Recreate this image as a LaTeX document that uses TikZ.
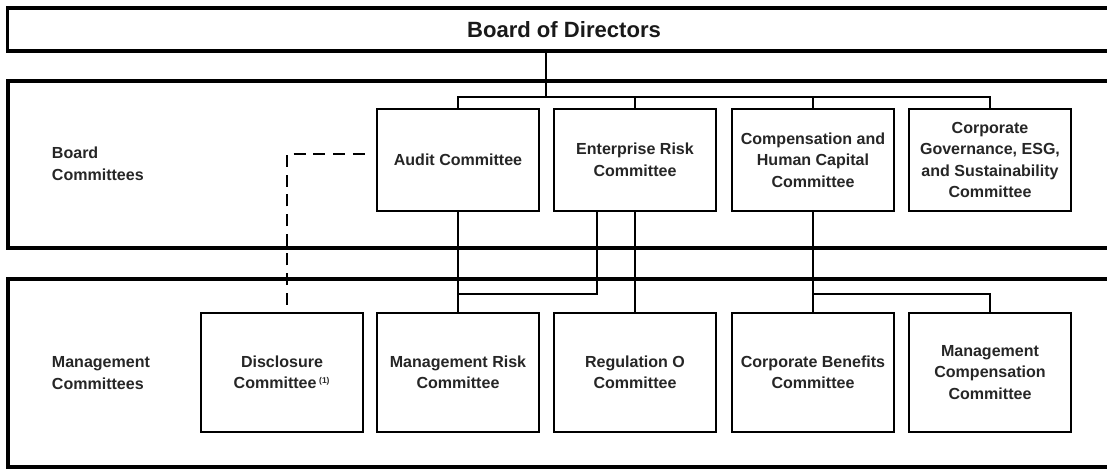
\documentclass[tikz,border=0pt]{standalone}
\usepackage{fontspec}
\setmainfont{Liberation Sans}
\usetikzlibrary{calc}
\def\boxfont{\bfseries\fontsize{11.4}{15.3}\selectfont}

\begin{document}
\begin{tikzpicture}[x=0.025cm, y=-0.025cm,
		panel/.style={draw, line width=2.2pt},
		cbox/.style={draw, line width=1.7pt, fill=white, align=center, minimum width=4.05cm, font=\boxfont, text=black!85},
		bcbox/.style={cbox, minimum height=2.55cm},
		mcbox/.style={cbox, minimum height=2.975cm},
		rowlabel/.style={anchor=west, align=left, font=\boxfont, text=black!85},
		link/.style={line width=1.4pt},
		dashlink/.style={line width=1.4pt, dash pattern=on 8.5pt off 5.5pt}]
			%%%%% START %%%%%
			
			\clip (0, 0) rectangle (1107, 469);
			
			\draw[panel] (8, 81) rectangle (1125, 248);
			\draw[panel] (8, 279) rectangle (1125, 467);
			
			\node[panel, minimum width=27.8cm, minimum height=1.075cm, font=\bfseries\fontsize{15.7}{18}\selectfont, text=black!90] (bod) at (564, 29.5) {Board of Directors};
			
			\node[rowlabel] (blabel) at (47, 164) {Board\\Committees};
			\node[rowlabel] (mlabel) at (47, 373) {Management\\Committees};
			
			\node[bcbox] (audit) at (458, 160) {Audit Committee};
			\node[bcbox] (erm) at (635, 160) {Enterprise Risk\\Committee};
			\node[bcbox] (chc) at (813, 160) {Compensation and\\Human Capital\\Committee};
			\node[bcbox] (cgesg) at (990, 160) {Corporate\\Governance, ESG,\\and Sustainability\\Committee};
			
			\node[mcbox] (disc) at (282, 372.5) {Disclosure\\Committee\,\textsuperscript{\fontsize{6}{7}\selectfont(1)}};
			\node[mcbox] (mrc) at (458, 372.5) {Management Risk\\Committee};
			\node[mcbox] (rego) at (635, 372.5) {Regulation O\\Committee};
			\node[mcbox] (cbc) at (813, 372.5) {Corporate Benefits\\Committee};
			\node[mcbox] (mcc) at (990, 372.5) {Management\\Compensation\\Committee};
			
			\coordinate (bus) at (546, 97);
			\coordinate (mbus) at (0, 294);
			
			\draw[link] (bod.south -| bus) -- (bus);
			\draw[link] (audit.north) |- (bus) -| (cgesg.north);
			\draw[link] (erm.north) -- (erm.north |- bus);
			\draw[link] (chc.north) -- (chc.north |- bus);
			
			\draw[link] (audit.south) -- (mrc.north);
			\draw[link] ($(erm.south)+(-38, 0)$) |- (mrc.north |- mbus);
			\draw[link] (erm.south) -- (rego.north);
			\draw[link] (chc.south) -- (cbc.north);
			\draw[link] (cbc.north |- mbus) -| (mcc.north);
			
			\draw[dashlink] ($(disc.north)+(5, -7)$) |- ($(audit.west)+(-9, -6)$);
			
			%%%%% END %%%%%
		\end{tikzpicture}
\end{document}
